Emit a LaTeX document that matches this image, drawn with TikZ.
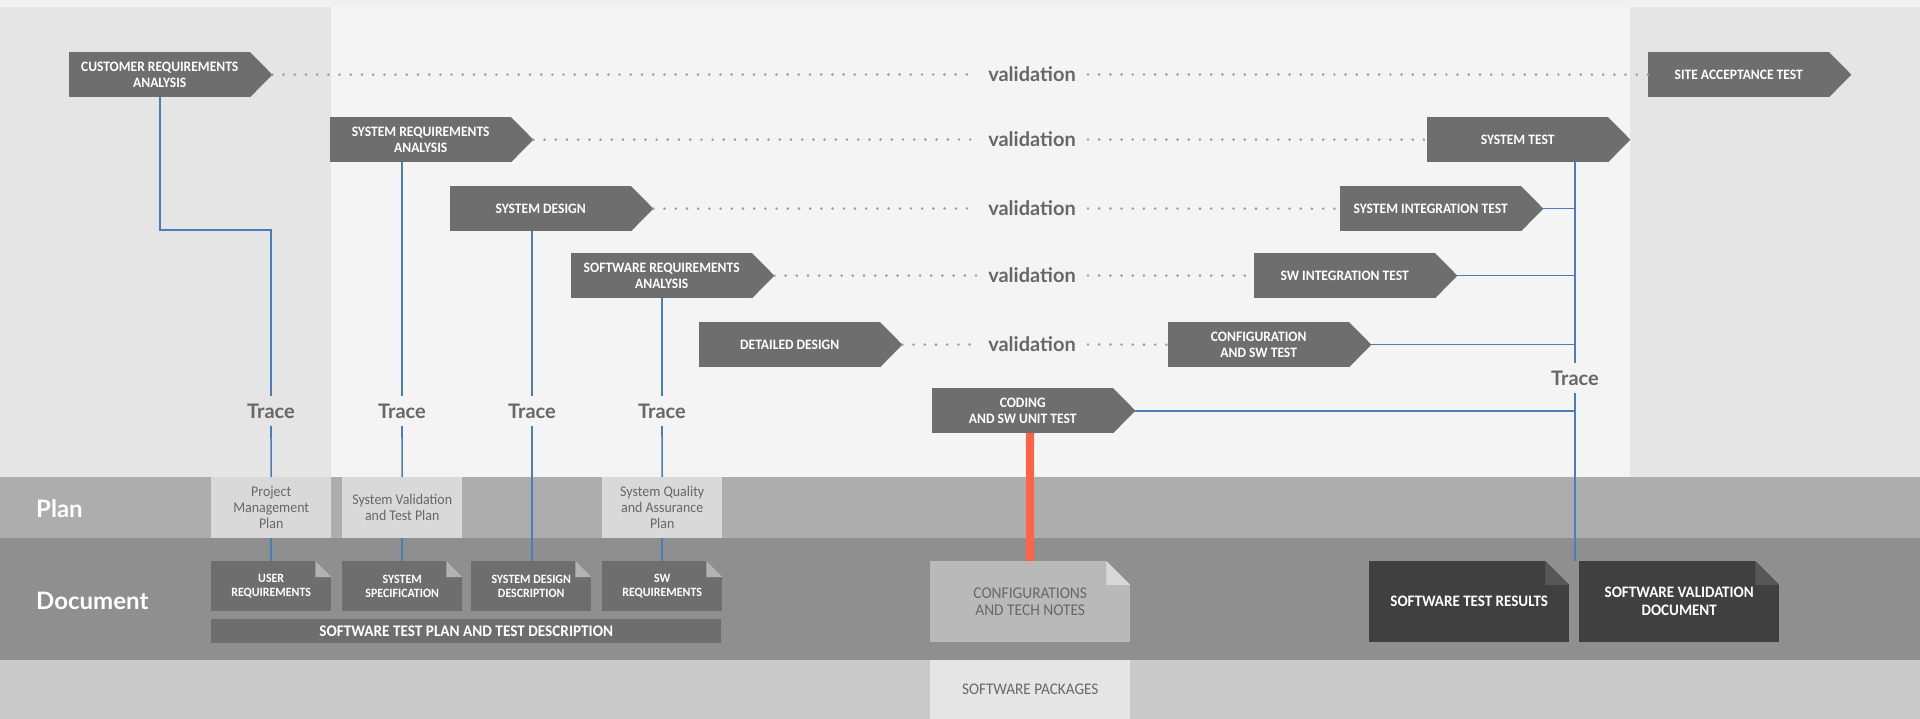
\documentclass[tikz,border=0pt]{standalone}
\usepackage{fontspec}
\setmainfont{Carlito}
\newfontfamily\stagefont{Carlito}[FakeStretch=0.94]
\newfontfamily\lblfont{Lato}
\usetikzlibrary{calc}

\definecolor{panel}{HTML}{E5E5E5}
\definecolor{canvas}{HTML}{F4F4F4}
\definecolor{topstrip}{HTML}{F1F1F1}
\definecolor{planband}{HTML}{ADADAD}
\definecolor{docband}{HTML}{8F8F8F}
\definecolor{pkgband}{HTML}{CACACA}
\definecolor{stagegray}{HTML}{6E6E6E}
\definecolor{planfill}{HTML}{D9D9D9}
\definecolor{labelgray}{HTML}{676767}
\definecolor{dotgray}{HTML}{9F9F9F}
\definecolor{tracecol}{HTML}{4A7EBB}
\definecolor{redlink}{HTML}{FF6347}
\definecolor{darkdoc}{HTML}{404040}
\definecolor{darkfold}{HTML}{575757}
\definecolor{smallfold}{HTML}{B3B3B3}
\definecolor{notefill}{HTML}{B9B9B9}
\definecolor{notefold}{HTML}{D8D8D8}
\definecolor{notetext}{HTML}{686868}
\definecolor{pkgfill}{HTML}{E5E5E5}

% a process stage: grey body with a pointed right end
\newcommand\stagebox[4]{%
  \node[stagebox] (#1) at (#2,#3) {#4};
  \coordinate (#1-tip) at ($(#1.east)+(22,0)$);
  \fill[stagegray] ($(#1.north east)+(-0.5,0)$) -- (#1-tip) -- ($(#1.south east)+(-0.5,0)$) -- cycle;
}
% folded top-right corner of a document sheet
\newcommand\dogear[4]{%
  \fill[#4] ($(#1.north east)+(-#2,0)$) -- (#1.north east) -- ($(#1.north east)+(0,#2)$) -- cycle;
  \fill[#3] ($(#1.north east)+(-#2,0)$) -- ($(#1.north east)+(-#2,#2)$) -- ($(#1.north east)+(0,#2)$) -- cycle;
}

\begin{document}
\begin{tikzpicture}[x=1pt,y=-1pt,
  stagebox/.style={fill=stagegray, text=white, minimum width=181pt, minimum height=45pt,
    inner sep=0pt, align=center, anchor=north west,
    font=\stagefont\fontsize{14.4}{15.8}\selectfont\bfseries},
  valtext/.style={font=\lblfont\bfseries\fontsize{20}{22}\selectfont, text=labelgray,
    inner xsep=12pt, inner ysep=0pt, text height=14.5pt, text depth=0pt},
  tracetext/.style={font=\lblfont\bfseries\fontsize{20}{22}\selectfont, text=labelgray,
    inner xsep=2pt, inner ysep=7.5pt, text height=14.5pt, text depth=0pt},
  bandlabel/.style={font=\lblfont\bfseries\fontsize{24}{26}\selectfont, text=white,
    inner sep=0pt, anchor=west},
  dots/.style={draw=dotgray, line width=2.9pt, line cap=round, dash pattern=on 0pt off 11.2pt},
  trace/.style={draw=tracecol, line width=1.6pt},
  planbox/.style={fill=planfill, text=labelgray, minimum width=120pt, minimum height=61pt,
    inner sep=0pt, align=center, anchor=north west,
    font=\stagefont\fontsize{14.8}{16}\selectfont},
  docbox/.style={fill=stagegray, text=white, minimum width=120pt, minimum height=50pt,
    inner sep=0pt, align=center, anchor=north west,
    font=\stagefont\fontsize{12.7}{14}\selectfont\bfseries},
  notebox/.style={fill=notefill, text=notetext, minimum width=200pt, minimum height=81pt,
    inner sep=0pt, align=center, anchor=north west,
    font=\stagefont\fontsize{16.4}{17.8}\selectfont},
  pkgbox/.style={fill=pkgfill, text=notetext, minimum width=200pt, minimum height=59pt,
    inner sep=0pt, align=center, anchor=north west,
    font=\stagefont\fontsize{16.2}{17.5}\selectfont},
  darkbox/.style={fill=darkdoc, text=white, minimum width=200pt, minimum height=81pt,
    inner sep=0pt, align=center, anchor=north west,
    font=\stagefont\fontsize{16}{17.8}\selectfont\bfseries}
]
\useasboundingbox (0,0) rectangle (1920,719);

% backdrop panels and bands
\fill[canvas] (0,0) rectangle (1920,719);
\fill[topstrip] (0,0) rectangle (1920,7);
\fill[panel] (0,7) rectangle (331,477);
\fill[panel] (1630,7) rectangle (1920,477);
\fill[planband] (0,477) rectangle (1920,538);
\fill[docband] (0,538) rectangle (1920,660);
\fill[pkgband] (0,660) rectangle (1920,719);

\node[bandlabel] (planlbl) at (36,509) {Plan};
\node[bandlabel] (doclbl) at (36,601) {Document};

% left branch of the V
\stagebox{cra}{69}{52}{CUSTOMER REQUIREMENTS\\ANALYSIS}
\stagebox{sra}{330}{117}{SYSTEM REQUIREMENTS\\ANALYSIS}
\stagebox{sd}{450}{186}{SYSTEM DESIGN}
\stagebox{swra}{571}{253}{SOFTWARE REQUIREMENTS\\ANALYSIS}
\stagebox{dd}{699}{322}{DETAILED DESIGN}
\stagebox{cod}{932}{388}{CODING\\AND SW UNIT TEST}

% right branch of the V
\stagebox{sat}{1648}{52}{SITE ACCEPTANCE TEST}
\stagebox{st}{1427}{117}{SYSTEM TEST}
\stagebox{sit}{1340}{186}{SYSTEM INTEGRATION TEST}
\stagebox{swit}{1254}{253}{SW INTEGRATION TEST}
\stagebox{cfg}{1168}{322}{CONFIGURATION\\AND SW TEST}

% validation links
\node[valtext] (v1) at (1032,74.5) {validation};
\node[valtext] (v2) at (1032,139.5) {validation};
\node[valtext] (v3) at (1032,208.5) {validation};
\node[valtext] (v4) at (1032,275.5) {validation};
\node[valtext] (v5) at (1032,344.5) {validation};
\draw[dots] (cra-tip) -- (v1.west);   \draw[dots] (v1.east) -- (sat.west);
\draw[dots] (sra-tip) -- (v2.west);   \draw[dots] (v2.east) -- (st.west);
\draw[dots] (sd-tip) -- (v3.west);    \draw[dots] (v3.east) -- (sit.west);
\draw[dots] (swra-tip) -- (v4.west);  \draw[dots] (v4.east) -- (swit.west);
\draw[dots] (dd-tip) -- (v5.west);    \draw[dots] (v5.east) -- (cfg.west);

% plans
\node[planbox] (pmp) at (211,477) {Project\\Management\\Plan};
\node[planbox] (svtp) at (342,477) {System Validation\\and Test Plan};
\node[planbox] (sqap) at (602,477) {System Quality\\and Assurance\\Plan};

% documents
\node[docbox] (ur) at (211,561) {USER\\REQUIREMENTS};
\node[docbox] (ss) at (342,561) {SYSTEM\\SPECIFICATION};
\node[docbox] (sdd) at (471,561) {SYSTEM DESIGN\\DESCRIPTION};
\node[docbox] (swr) at (602,561) {SW\\REQUIREMENTS};
\dogear{ur}{16}{smallfold}{docband}
\dogear{ss}{16}{smallfold}{docband}
\dogear{sdd}{16}{smallfold}{docband}
\dogear{swr}{16}{smallfold}{docband}
\node[docbox, minimum width=510pt, minimum height=23.3pt, font=\stagefont\fontsize{16.2}{17}\selectfont\bfseries]
  (stp) at (211,619) {SOFTWARE TEST PLAN AND TEST DESCRIPTION};

\node[notebox] (ctn) at (930,561) {CONFIGURATIONS\\AND TECH NOTES};
\dogear{ctn}{24}{notefold}{docband}
\node[pkgbox] (swp) at (930,660) {SOFTWARE PACKAGES};

\node[darkbox] (str) at (1369,561) {SOFTWARE TEST RESULTS};
\node[darkbox] (svd) at (1579,561) {SOFTWARE VALIDATION\\DOCUMENT};
\dogear{str}{24}{darkfold}{docband}
\dogear{svd}{24}{darkfold}{docband}

% traces on the left branch
\node[tracetext] (tr1) at (271,411) {Trace};
\node[tracetext] (tr2) at (402,411) {Trace};
\node[tracetext] (tr3) at (532,411) {Trace};
\node[tracetext] (tr4) at (662,411) {Trace};
\coordinate (bend1) at (271,230);
\draw[trace] (cra.south) |- (bend1) -- (tr1.north);
\draw[trace] (tr1.south) -- (pmp.north);
\draw[trace] (pmp.south) -- (ur.north);
\draw[trace] (tr2.north |- sra.south) -- (tr2.north);
\draw[trace] (tr2.south) -- (svtp.north);
\draw[trace] (svtp.south) -- (ss.north);
\draw[trace] (tr3.north |- sd.south) -- (tr3.north);
\draw[trace] (tr3.south) -- (tr3.south |- sdd.north);
\draw[trace] (tr4.north |- swra.south) -- (tr4.north);
\draw[trace] (tr4.south) -- (sqap.north);
\draw[trace] (sqap.south) -- (swr.north);

% trace on the right branch
\node[tracetext] (trR) at (1575,378) {Trace};
\draw[trace] (trR.north |- st.south) -- (trR.north);
\draw[trace] (trR.south) -- (trR.south |- str.north);
\draw[trace] (sit-tip) -- (sit-tip -| trR);
\draw[trace] (swit-tip) -- (swit-tip -| trR);
\draw[trace] (cfg-tip) -- (cfg-tip -| trR);
\draw[trace] (cod-tip) -- (cod-tip -| trR);

% coding feeds the configuration notes
\draw[redlink, line width=8pt] (ctn.north |- cod.south) -- (ctn.north);
\end{tikzpicture}
\end{document}
